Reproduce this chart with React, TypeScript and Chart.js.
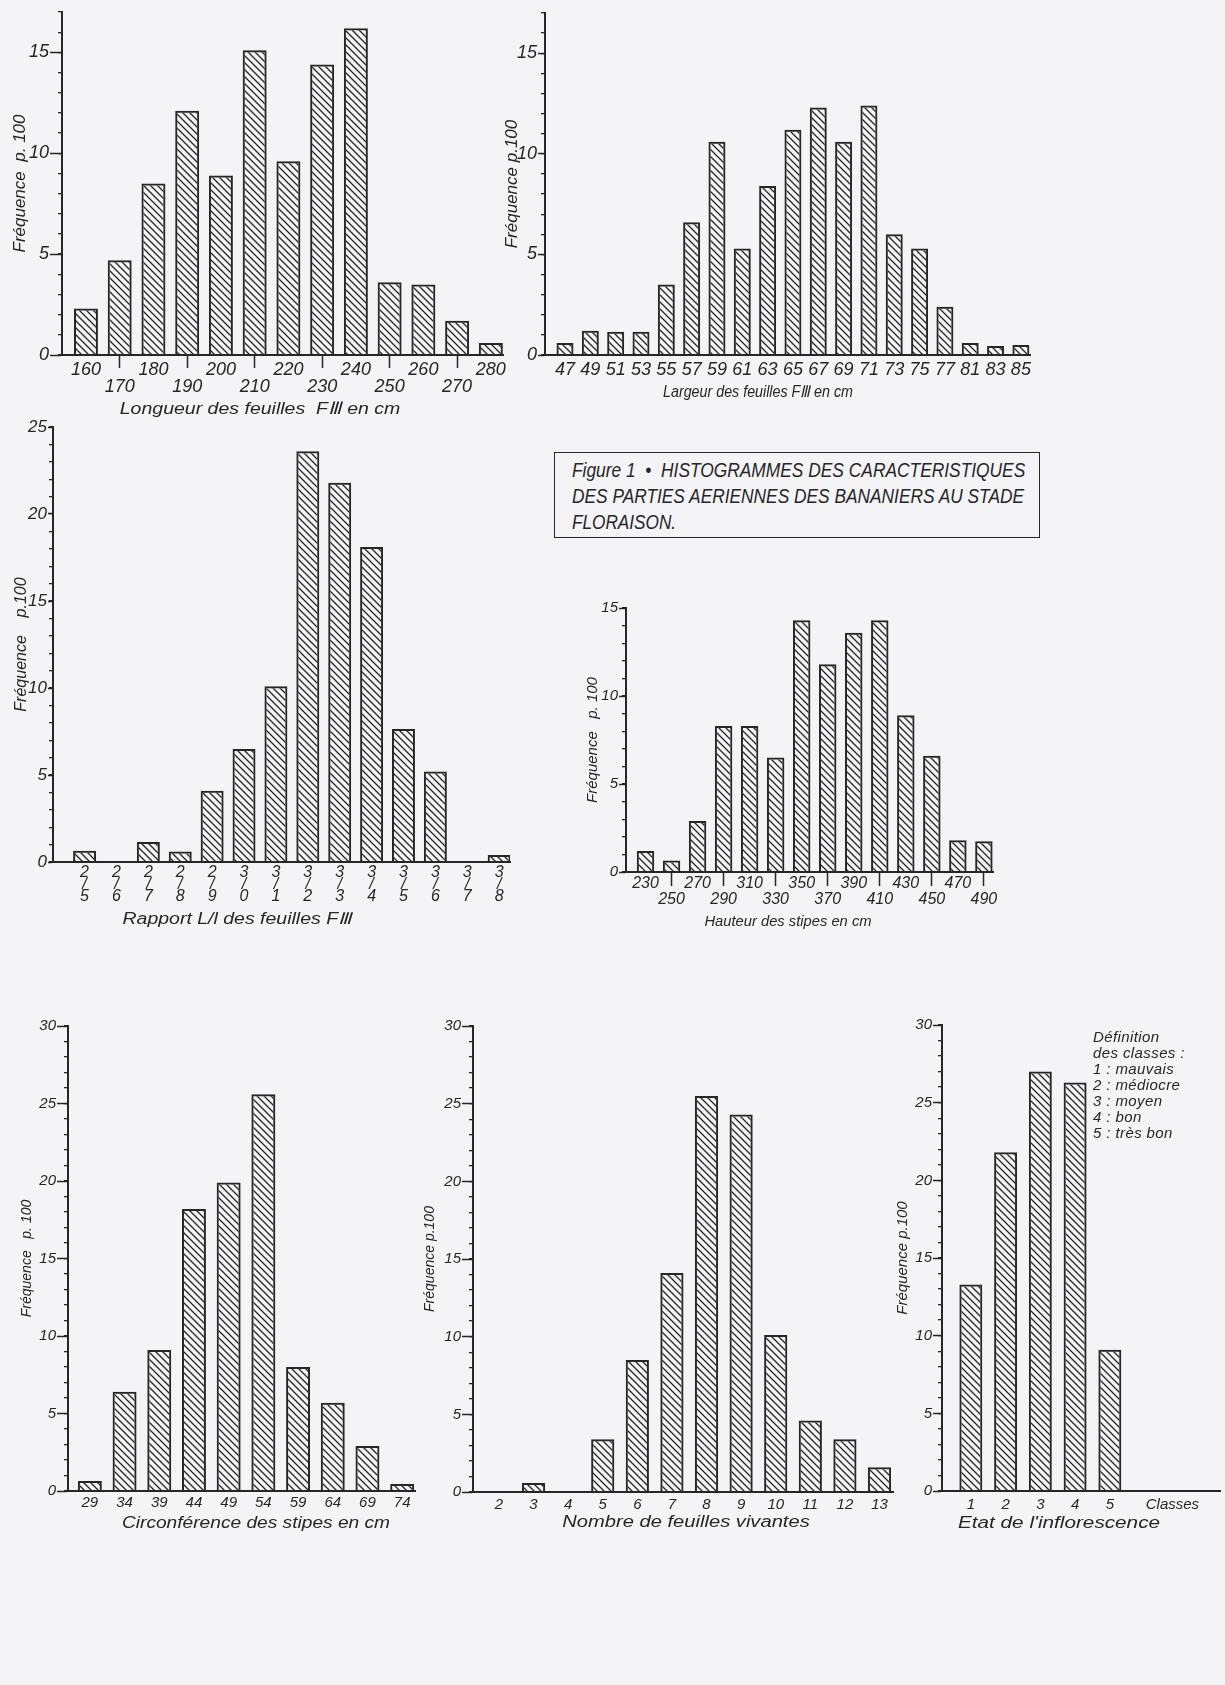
import React, { useEffect, useLayoutEffect, useRef } from 'react';
import { Chart, registerables } from 'chart.js';

Chart.register(...registerables);

const FONT = '"Liberation Sans", Arial, Helvetica, sans-serif';
const INK = '#262626';
const PAPER = '#f4f4f7';

// ---- Data -------------------------------------------------------------
const longueurLabels = ['160', '170', '180', '190', '200', '210', '220', '230', '240', '250', '260', '270', '280'];
const longueurValues = [2.3, 4.7, 8.5, 12.1, 8.9, 15.1, 9.6, 14.4, 16.2, 3.6, 3.5, 1.7, 0.6];

const largeurLabels = ['47', '49', '51', '53', '55', '57', '59', '61', '63', '65', '67', '69', '71', '73', '75', '77', '81', '83', '85'];
const largeurValues = [0.6, 1.2, 1.15, 1.15, 3.5, 6.6, 10.6, 5.3, 8.4, 11.2, 12.3, 10.6, 12.4, 6.0, 5.3, 2.4, 0.6, 0.45, 0.5];

const rapportLabels = ['2/5', '2/6', '2/7', '2/8', '2/9', '3/0', '3/1', '3/2', '3/3', '3/4', '3/5', '3/6', '3/7', '3/8'];
const rapportValues = [0.65, 0, 1.15, 0.6, 4.1, 6.5, 10.1, 23.6, 21.8, 18.1, 7.65, 5.2, 0, 0.4];

const hauteurLabels = ['230', '250', '270', '290', '310', '330', '350', '370', '390', '410', '430', '450', '470', '490'];
const hauteurValues = [1.2, 0.65, 2.9, 8.3, 8.3, 6.5, 14.3, 11.8, 13.6, 14.3, 8.9, 6.6, 1.8, 1.75];

const circLabels = ['29', '34', '39', '44', '49', '54', '59', '64', '69', '74'];
const circValues = [0.65, 6.4, 9.1, 18.2, 19.9, 25.6, 8.0, 5.7, 2.9, 0.45];

const nombreLabels = ['2', '3', '4', '5', '6', '7', '8', '9', '10', '11', '12', '13'];
const nombreValues = [0, 0.58, 0, 3.4, 8.5, 14.1, 25.5, 24.3, 10.1, 4.6, 3.4, 1.6];

const etatLabels = ['1', '2', '3', '4', '5'];
const etatValues = [13.3, 21.8, 27.0, 26.3, 9.1];
const etatUnitLabel = 'Classes';

const captionLines = [
  'Figure 1  •  HISTOGRAMMES DES CARACTERISTIQUES',
  'DES PARTIES AERIENNES DES BANANIERS AU STADE',
  'FLORAISON.',
];
const classLegend = ['Définition', 'des classes :', '1 : mauvais', '2 : médiocre', '3 : moyen', '4 : bon', '5 : très bon'];

// ---- Layout specs -------------------------------------------------------
type Spec = {
  labels: string[];
  values: number[];
  yMax: number;
  yTitle: string;
  xTitle: string;
  mode: 'alt' | 'single' | 'frac';
  left: number; top: number; width: number; height: number;
  padTop: number; padRight: number;
  yWidth: number; xHeight: number;
  xMin: number; xMax: number; barPct: number;
  xFont: number; yFont: number; xPad: number; xLine: number; tickLen: number;
  majorLen: number;
  yTitlePad: number; yTitleSize: number;
  titleX: number; titleY: number; titleW: number; titleSize: number;
  extra?: { value: number; label: string }[];
};

const MINOR_LEN = 4;

const specs: Spec[] = [
  {
    labels: longueurLabels, values: longueurValues, yMax: 17, yTitle: 'Fréquence  p. 100',
    xTitle: 'Longueur des feuilles  FⅢ en cm', mode: 'alt',
    left: 0, top: 0, width: 510, height: 418, padTop: 12, padRight: 7, yWidth: 62, xHeight: 63,
    xMin: -0.71, xMax: 12.36, barPct: 0.71, xFont: 18, yFont: 18, xPad: -6.5, xLine: 17, tickLen: 13, majorLen: 12,
    yTitlePad: 10, yTitleSize: 17, titleX: 260, titleY: 408, titleW: 280, titleSize: 17,
  },
  {
    labels: largeurLabels, values: largeurValues, yMax: 17, yTitle: 'Fréquence p.100',
    xTitle: 'Largeur des feuilles FⅢ en cm', mode: 'single',
    left: 470, top: 0, width: 565, height: 402, padTop: 13, padRight: 5, yWidth: 75, xHeight: 47,
    xMin: -0.79, xMax: 18.36, barPct: 0.67, xFont: 18, yFont: 18, xPad: 4, xLine: 21.6, tickLen: 0, majorLen: 7,
    yTitlePad: 32, yTitleSize: 17, titleX: 758, titleY: 392, titleW: 190, titleSize: 16,
  },
  {
    labels: rapportLabels, values: rapportValues, yMax: 25, yTitle: 'Fréquence    p.100',
    xTitle: 'Rapport L/l des feuilles FⅢ', mode: 'frac',
    left: 0, top: 415, width: 520, height: 514, padTop: 12, padRight: 10, yWidth: 53, xHeight: 67,
    xMin: -0.99, xMax: 13.34, barPct: 0.72, xFont: 16, yFont: 17, xPad: 5, xLine: 12, tickLen: 0, majorLen: 5,
    yTitlePad: 12, yTitleSize: 16, titleX: 237, titleY: 919, titleW: 229, titleSize: 16,
  },
  {
    labels: hauteurLabels, values: hauteurValues, yMax: 15, yTitle: 'Fréquence   p. 100',
    xTitle: 'Hauteur des stipes en cm', mode: 'alt',
    left: 545, top: 596, width: 455, height: 334, padTop: 12, padRight: 7, yWidth: 81, xHeight: 58,
    xMin: -0.75, xMax: 13.35, barPct: 0.67, xFont: 16, yFont: 15, xPad: -10, xLine: 16, tickLen: 14, majorLen: 7,
    yTitlePad: 39, yTitleSize: 15, titleX: 788, titleY: 920, titleW: 167, titleSize: 15,
  },
  {
    labels: circLabels, values: circValues, yMax: 30, yTitle: 'Fréquence   p. 100',
    xTitle: 'Circonférence des stipes en cm', mode: 'single',
    left: 0, top: 1014, width: 425, height: 519, padTop: 12, padRight: 10, yWidth: 68, xHeight: 42,
    xMin: -0.63, xMax: 9.37, barPct: 0.69, xFont: 15, yFont: 15, xPad: 3, xLine: 18, tickLen: 0, majorLen: 11,
    yTitlePad: 19, yTitleSize: 14, titleX: 256, titleY: 1523, titleW: 268, titleSize: 16,
  },
  {
    labels: nombreLabels, values: nombreValues, yMax: 30, yTitle: 'Fréquence p.100',
    xTitle: 'Nombre de feuilles vivantes', mode: 'single',
    left: 400, top: 1014, width: 500, height: 518, padTop: 12, padRight: 7, yWidth: 73, xHeight: 40,
    xMin: -0.75, xMax: 11.39, barPct: 0.67, xFont: 15, yFont: 15, xPad: 4, xLine: 18, tickLen: 0, majorLen: 11,
    yTitlePad: 22, yTitleSize: 14, titleX: 686, titleY: 1522, titleW: 248, titleSize: 16,
  },
  {
    labels: etatLabels, values: etatValues, yMax: 30, yTitle: 'Fréquence p.100',
    xTitle: "Etat de l'inflorescence", mode: 'single',
    left: 860, top: 1014, width: 365, height: 519, padTop: 11, padRight: 5, yWidth: 82, xHeight: 42,
    xMin: -0.83, xMax: 7.17, barPct: 0.66, xFont: 15, yFont: 15, xPad: 5, xLine: 18, tickLen: 0, majorLen: 9,
    yTitlePad: 34, yTitleSize: 15, titleX: 1059, titleY: 1523, titleW: 202, titleSize: 16,
    extra: [{ value: 5.8, label: etatUnitLabel }],
  },
];

function makeHatch(): CanvasPattern | string {
  const s = 7;
  const c = document.createElement('canvas');
  c.width = s;
  c.height = s;
  const g = c.getContext('2d');
  if (!g) return 'transparent';
  g.strokeStyle = INK;
  g.lineWidth = 1.3;
  g.beginPath();
  g.moveTo(-1, -1);
  g.lineTo(s + 1, s + 1);
  g.moveTo(-1, s - 1);
  g.lineTo(1, s + 1);
  g.moveTo(s - 1, -1);
  g.lineTo(s + 1, 1);
  g.stroke();
  return g.createPattern(c, 'repeat') || 'transparent';
}

function font(size: number, lineHeight?: number) {
  return { family: FONT, size, style: 'italic' as const, lineHeight: lineHeight ?? 1.2 };
}

function Histogram({ spec }: { spec: Spec }) {
  const ref = useRef<HTMLCanvasElement>(null);
  useEffect(() => {
    const canvas = ref.current;
    if (!canvas) return;
    const hatch = makeHatch();
    const labelFor = (value: number): string | string[] => {
      const ex = spec.extra?.find((e) => Math.abs(e.value - value) < 1e-6);
      if (ex) return ex.label;
      const i = Math.round(value);
      const lab = spec.labels[i];
      if (lab === undefined) return '';
      if (spec.mode === 'alt') return i % 2 === 0 ? lab : ['', lab];
      if (spec.mode === 'frac') {
        const [a, b] = lab.split('/');
        return [a, '/', b];
      }
      return lab;
    };
    const isMajor = (v: number) => Math.abs(v % 5) < 1e-9;
    const chart = new Chart(canvas, {
      type: 'bar',
      data: {
        datasets: [
          {
            data: spec.values.map((v, i) => ({ x: i, y: v })),
            xAxisID: 'x',
            yAxisID: 'y',
            backgroundColor: hatch as any,
            borderColor: INK,
            borderWidth: 2,
            barPercentage: spec.barPct,
            categoryPercentage: 1,
          },
        ],
      },
      options: {
        responsive: false,
        animation: false,
        devicePixelRatio: 1,
        layout: { padding: { top: spec.padTop, right: spec.padRight, left: 0, bottom: 0 } },
        plugins: { legend: { display: false }, tooltip: { enabled: false }, title: { display: false } },
        scales: {
          x: {
            type: 'linear',
            min: spec.xMin,
            max: spec.xMax,
            offset: false,
            afterBuildTicks: (scale: any) => {
              const t = spec.labels.map((_, i) => ({ value: i }));
              (spec.extra || []).forEach((e) => t.push({ value: e.value }));
              scale.ticks = t;
            },
            afterFit: (scale: any) => {
              scale.height = spec.xHeight;
            },
            grid: {
              offset: false,
              drawOnChartArea: false,
              drawTicks: spec.mode === 'alt',
              tickLength: spec.tickLen,
              tickWidth: 1.5,
              tickColor: (ctx: any) => (ctx.index % 2 === 1 ? INK : 'rgba(0,0,0,0)'),
            },
            border: { display: true, color: INK, width: 2 },
            ticks: {
              autoSkip: false,
              maxRotation: 0,
              minRotation: 0,
              padding: spec.xPad,
              color: INK,
              font: font(spec.xFont, spec.xLine / spec.xFont),
              callback: (value: any) => labelFor(Number(value)),
            },
          },
          // main value axis: labels + long ticks at the labelled values
          y: {
            type: 'linear',
            position: 'left',
            weight: 1,
            min: 0,
            max: spec.yMax,
            afterFit: (scale: any) => {
              scale.width = spec.yWidth;
            },
            grid: {
              drawOnChartArea: false,
              drawTicks: true,
              tickLength: spec.majorLen,
              tickWidth: 1.5,
              tickColor: (ctx: any) => (ctx.tick && isMajor(ctx.tick.value) ? INK : 'rgba(0,0,0,0)'),
            },
            border: { display: true, color: INK, width: 2 },
            ticks: {
              stepSize: 1,
              autoSkip: false,
              padding: 1,
              color: INK,
              font: font(spec.yFont),
              callback: (value: any) => (isMajor(Number(value)) ? String(value) : ''),
            },
            title: {
              display: true,
              text: spec.yTitle,
              color: INK,
              font: font(spec.yTitleSize),
              padding: { top: spec.yTitlePad, bottom: 0 },
            },
          },
          // short minor ticks at every unit
          yMinor: {
            type: 'linear',
            position: 'left',
            weight: 0,
            min: 0,
            max: spec.yMax,
            afterBuildTicks: (scale: any) => {
              const t: { value: number }[] = [];
              for (let v = 0; v <= spec.yMax; v += 1) t.push({ value: v });
              scale.ticks = t;
            },
            afterFit: (scale: any) => {
              scale.width = 0;
              scale.paddingTop = 0;
              scale.paddingBottom = 0;
            },
            grid: { drawOnChartArea: false, drawTicks: true, tickLength: MINOR_LEN, color: INK, lineWidth: 1.3 },
            border: { display: false },
            ticks: { display: false },
            title: { display: false },
          },
        },
      } as any,
    });
    return () => chart.destroy();
  }, [spec]);
  return (
    <canvas
      ref={ref}
      width={spec.width}
      height={spec.height}
      style={{ position: 'absolute', left: spec.left, top: spec.top, width: spec.width, height: spec.height }}
    />
  );
}

function FitText({ text, x, y, w, size, anchor }: { text: string; x: number; y: number; w: number; size: number; anchor: 'center' | 'left' }) {
  const ref = useRef<HTMLDivElement>(null);
  useLayoutEffect(() => {
    const el = ref.current;
    if (!el) return;
    const natural = el.offsetWidth;
    const sx = natural > 0 ? w / natural : 1;
    el.style.transform = anchor === 'center' ? `translate(-50%, -50%) scaleX(${sx})` : `translateY(-50%) scaleX(${sx})`;
  }, [text, w, anchor]);
  return (
    <div
      ref={ref}
      style={{
        position: 'absolute',
        left: x,
        top: y,
        transformOrigin: anchor === 'center' ? 'center center' : 'left center',
        whiteSpace: 'pre',
        fontFamily: FONT,
        fontStyle: 'italic',
        fontSize: size,
        lineHeight: 1,
        color: INK,
      }}
    >
      {text}
    </div>
  );
}

export default function App() {
  useEffect(() => {
    document.body.style.margin = '0';
    document.body.style.background = PAPER;
  }, []);
  return (
    <div style={{ position: 'absolute', left: 0, top: 0, width: 1225, height: 1685, background: PAPER, overflow: 'hidden' }}>
      {specs.map((s, i) => (
        <Histogram key={i} spec={s} />
      ))}
      {specs.map((s, i) => (
        <FitText key={'t' + i} text={s.xTitle} x={s.titleX} y={s.titleY} w={s.titleW} size={s.titleSize} anchor="center" />
      ))}
      <div style={{ position: 'absolute', left: 554, top: 452, width: 486, height: 86, border: `1.5px solid ${INK}`, boxSizing: 'border-box' }} />
      <FitText text={captionLines[0]} x={572} y={470} w={453} size={20} anchor="left" />
      <FitText text={captionLines[1]} x={572} y={496} w={452} size={20} anchor="left" />
      <FitText text={captionLines[2]} x={572} y={522} w={104} size={20} anchor="left" />
      <div
        style={{
          position: 'absolute',
          left: 1093,
          top: 1029,
          fontFamily: FONT,
          fontStyle: 'italic',
          fontSize: 15,
          lineHeight: '16px',
          letterSpacing: '0.4px',
          color: INK,
          whiteSpace: 'pre',
        }}
      >
        {classLegend.join('\n')}
      </div>
    </div>
  );
}
